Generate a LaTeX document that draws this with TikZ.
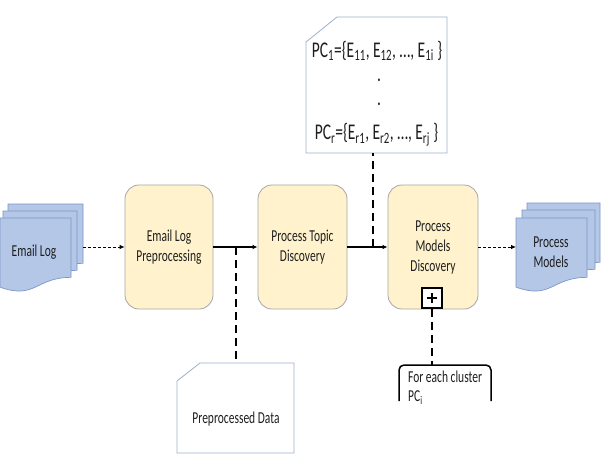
\documentclass[tikz,border=0pt]{standalone}
\usepackage{fontspec}
\setmainfont{Carlito}
\usepackage{graphicx}
\usetikzlibrary{arrows.meta}
\definecolor{boxfill}{HTML}{FFF2CC}
\definecolor{boxline}{HTML}{A6A6A6}
\definecolor{docfill}{HTML}{B4C7E7}
\definecolor{docline}{HTML}{7C96C8}
\definecolor{noteline}{HTML}{9DB0CC}
\definecolor{txt}{HTML}{1E1E1E}
\newcommand\vs[1]{\scalebox{1}[1.45]{#1}}
\newcommand\docshape[5]{\path[#1] (#2,#3) -- ({#2+#4},#3) -- ({#2+#4},{#3+0.802*#5}) .. controls ({#2+0.5*#4},{#3+0.802*#5}) and ({#2+0.5*#4},{#3+1.107*#5}) .. (#2,{#3+0.934*#5}) -- cycle;}
\tikzset{
  procbox/.style={draw=boxline, fill=boxfill, rounded corners=14pt, minimum width=88pt, minimum height=124pt, align=center, line width=0.8pt, text=txt, font=\fontsize{11.5}{20}\selectfont, inner sep=0pt},
  doclayer/.style={draw=docline, fill=docfill, line width=0.7pt},
  note/.style={draw=noteline, fill=white, line width=0.8pt},
  lbl/.style={text=txt, inner sep=0pt, font=\fontsize{11.5}{20}\selectfont, align=center},
  thindash/.style={line width=0.8pt, dash pattern=on 3pt off 2pt, -{Latex[length=5pt,width=4.5pt]}},
  solidarrow/.style={line width=1.1pt, -{Latex[length=5pt,width=4.5pt]}},
  bigdash/.style={line width=1.6pt, dash pattern=on 8pt off 5pt},
  plusbox/.style={draw=black, fill=white, line width=1.8pt, minimum size=20pt, inner sep=0pt},
}
\begin{document}
\begin{tikzpicture}[x=1pt,y=-1pt]
\useasboundingbox[fill=white] (0,0) rectangle (603,459);

% Email Log multi-document
\docshape{doclayer}{8}{204}{75}{74}
\docshape{doclayer}{3}{211}{74}{74}
\docshape{doclayer}{0}{218}{71}{74}
\node[lbl] (emaillog) at (34,252) {\vs{Email Log}};

% Process Models multi-document
\docshape{doclayer}{527}{203}{73}{74}
\docshape{doclayer}{522}{210}{73}{74}
\docshape{doclayer}{516}{218}{71}{74}
\node[lbl] (procmodels) at (551,252) {\vs{Process}\\\vs{Models}};

% process boxes
\node[procbox] (b1) at (169,247) {\vs{Email Log}\\\vs{Preprocessing}};
\node[procbox, minimum width=89pt] (b2) at (302.5,247) {\vs{Process Topic}\\\vs{Discovery}};
\node[procbox, minimum width=90pt] (b3) at (433,247) {\vs{Process}\\\vs{Models}\\\vs{Discovery}};
\node[plusbox] (plus) at (432,298) {};
\draw[line width=1.3pt] ([xshift=-5pt]plus.center) -- ([xshift=5pt]plus.center);
\draw[line width=1.3pt] ([yshift=-5pt]plus.center) -- ([yshift=5pt]plus.center);

% PC note
\path[note] (306,42) -- (337,17) -- (447,17) -- (447,153) -- (306,153) -- cycle;
\node[lbl, font=\fontsize{15.5}{20}\selectfont] (pc1) at (377,51) {\vs{PC\textsubscript{1}=\{E\textsubscript{11}, E\textsubscript{12}, …, E\textsubscript{1i} \}}};
\node[lbl, font=\fontsize{15.5}{20}\selectfont] (dot1) at (379,80) {\vs{.}};
\node[lbl, font=\fontsize{15.5}{20}\selectfont] (dot2) at (379,104) {\vs{.}};
\node[lbl, font=\fontsize{15.5}{20}\selectfont] (pcr) at (376.5,135) {\vs{PC\textsubscript{r}=\{E\textsubscript{r1}, E\textsubscript{r2}, …, E\textsubscript{rj} \}}};

% Preprocessed data note
\path[note] (177,381) -- (200,363) -- (294,363) -- (294,453) -- (177,453) -- cycle;
\node[lbl] (pre) at (236,419) {\vs{Preprocessed Data}};

% For each cluster bracket
\draw[line width=1.5pt, rounded corners=5pt] (399,401) -- (399,365) -- (491,365) -- (491,401);
\node[lbl, anchor=west, align=left, font=\fontsize{11.5}{19}\selectfont] (cluster) at (408,388) {\vs{For each cluster}\\\vs{PC\textsubscript{i}}};

% coordinates
\coordinate (elR) at (83,247);
\coordinate (pmL) at (516,247);
\coordinate (j1) at (236,247);
\coordinate (j2) at (373,247);
\coordinate (preTop) at (236,363);
\coordinate (pcBot) at (373,153);
\coordinate (clTop) at (432,365);

% connectors
\draw[thindash] (elR) -- (b1.west);
\draw[solidarrow] (b1) -- (b2);
\draw[solidarrow] (b2) -- (b3);
\draw[thindash] (b3.east) -- (pmL);
\draw[bigdash] (j1) -- (preTop);
\draw[bigdash] (j2) -- (pcBot);
\draw[bigdash] (plus.south) -- (clTop);
\end{tikzpicture}
\end{document}
